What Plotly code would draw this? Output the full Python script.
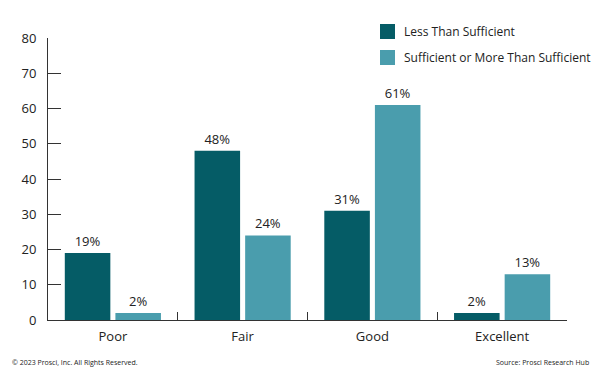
import plotly.graph_objects as go

categories = ["Poor", "Fair", "Good", "Excellent"]
less_than = [19, 48, 31, 2]
sufficient = [2, 24, 61, 13]
series_names = ["Less Than Sufficient", "Sufficient or More Than Sufficient"]
y_ticks = [0, 10, 20, 30, 40, 50, 60, 70, 80]

DARK = "#055c66"
LIGHT = "#4a9dad"
FONT = "Open Sans"
TXT = "#222222"

W, H = 600, 375
L, R, T, B = 48, 33, 38, 55
PW, PH = W - L - R, H - T - B


def px(x):
    return (x - L) / PW


def py(y):
    return (H - B - y) / PH


fig = go.Figure()
for name, vals, col in [(series_names[0], less_than, DARK), (series_names[1], sufficient, LIGHT)]:
    fig.add_trace(go.Bar(
        x=categories, y=vals, name=name, marker_color=col, marker_line_width=0,
        text=[f"{v}%" for v in vals], textposition="outside", cliponaxis=False,
        textfont=dict(family=FONT, size=13, color=TXT), showlegend=False,
    ))

# legend drawn manually
for i, (name, col) in enumerate([(series_names[0], DARK), (series_names[1], LIGHT)]):
    yc = 31.5 + i * 26
    fig.add_shape(type="rect", xref="paper", yref="paper",
                  x0=px(380), x1=px(395), y0=py(yc - 7.5), y1=py(yc + 7.5),
                  fillcolor=col, line_width=0)
    fig.add_annotation(text=name, xref="paper", yref="paper", x=px(402), y=py(yc),
                       xanchor="left", yanchor="middle", showarrow=False,
                       font=dict(family=FONT, size=12, color=TXT))

fig.update_layout(
    width=W, height=H,
    margin=dict(l=L, r=R, t=T, b=B, autoexpand=False),
    paper_bgcolor="white", plot_bgcolor="white",
    barmode="group", bargap=0.22, bargroupgap=0.1,
    font=dict(family=FONT, size=13, color=TXT),
    showlegend=False,
    xaxis=dict(showline=True, linecolor="#333333", linewidth=1, ticks="inside",
               tickson="boundaries", ticklen=8, tickcolor="#333333", showgrid=False,
               tickfont=dict(family=FONT, size=13, color=TXT), automargin=False,
               ticklabelstandoff=4),
    yaxis=dict(range=[0, 80], tickvals=y_ticks, showline=True, linecolor="#333333", linewidth=1,
               ticks="inside", ticklen=13, tickcolor="#333333", showgrid=False, zeroline=False,
               tickfont=dict(family=FONT, size=13, color=TXT), ticklabelstandoff=8,
               automargin=False),
)
fig.add_annotation(text="© 2023 Prosci, Inc. All Rights Reserved.", xref="paper", yref="paper",
                   x=px(10), y=py(362), xanchor="left", yanchor="middle", showarrow=False,
                   font=dict(family=FONT, size=7, color=TXT))
fig.add_annotation(text="Source: Prosci Research Hub", xref="paper", yref="paper",
                   x=px(591), y=py(362), xanchor="right", yanchor="middle", showarrow=False,
                   font=dict(family=FONT, size=7, color=TXT))
fig.write_html("out.html", config={"displayModeBar": False},
               post_script="document.body.style.margin='0';document.body.style.overflow='hidden';")
